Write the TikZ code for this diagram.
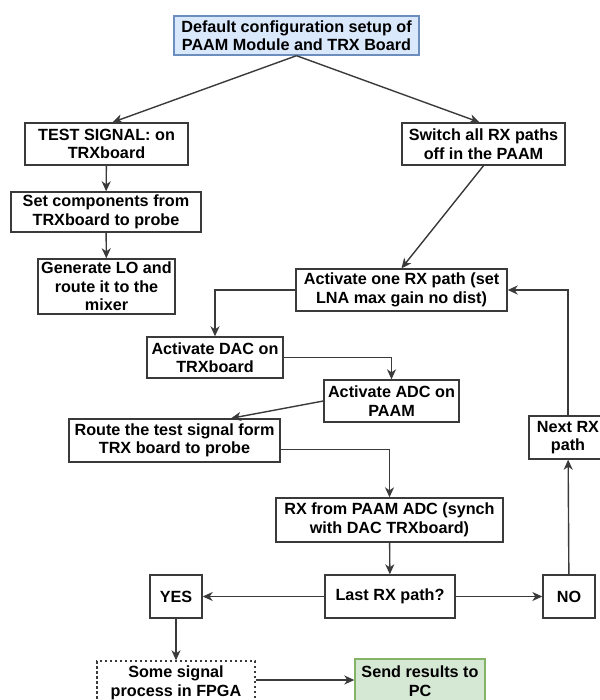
\documentclass[tikz,border=0pt]{standalone}
\usepackage{fontspec}
\setmainfont{Liberation Sans}
\usetikzlibrary{arrows.meta,calc}
\definecolor{ln}{HTML}{3A3A3A}
\definecolor{bluefill}{HTML}{DAE8FC}
\definecolor{bluedraw}{HTML}{6C8EBF}
\definecolor{greenfill}{HTML}{D5E8D4}
\definecolor{greendraw}{HTML}{82B366}
\begin{document}
\begin{tikzpicture}[x=1pt,y=-1pt,
  box/.style={draw=ln,line width=1.4pt,fill=white,rectangle,inner sep=0pt,align=center,
    font=\fontsize{16.2}{18.5}\selectfont\bfseries},
  arr/.style={draw=ln,line width=1.4pt,-{Stealth[length=10pt,width=9pt,inset=3pt]}}]
\useasboundingbox (0,0) rectangle (599,700);
\node[box,draw=bluedraw,fill=bluefill,minimum width=245pt,minimum height=39pt] (top) at (296.5,35.5) {Default configuration setup of\\PAAM Module and TRX Board};
\node[box,minimum width=163pt,minimum height=42pt] (test) at (106.5,144) {TEST SIGNAL: on\\TRXboard};
\node[box,minimum width=163pt,minimum height=42pt] (switch) at (483.5,144) {Switch all RX paths\\off in the PAAM};
\node[box,minimum width=190pt,minimum height=40pt] (set) at (106,212) {Set components from\\TRXboard to probe};
\node[box,minimum width=137pt,minimum height=55pt] (gen) at (106.5,286.5) {Generate LO and\\route it to the\\mixer};
\node[box,minimum width=211pt,minimum height=42pt] (act) at (401.5,290) {Activate one RX path (set\\LNA max gain no dist)};
\node[box,minimum width=136pt,minimum height=41pt] (dac) at (215,357.5) {Activate DAC on\\TRXboard};
\node[box,minimum width=135pt,minimum height=42pt] (adc) at (391.5,401) {Activate ADC on\\PAAM};
\node[box,minimum width=211pt,minimum height=43pt] (route) at (174.5,440.5) {Route the test signal form\\TRX board to probe};
\node[box,minimum width=78pt,minimum height=43pt] (next) at (568,437.5) {Next RX\\path};
\node[box,minimum width=227pt,minimum height=44pt] (rxp) at (389.5,520) {RX from PAAM ADC (synch\\with DAC TRXboard)};
\node[box,minimum width=52pt,minimum height=43pt] (yes) at (176,596.5) {YES};
\node[box,minimum width=130pt,minimum height=43pt] (last) at (390,596.5) {Last RX path?};
\node[box,minimum width=52pt,minimum height=43pt] (no) at (569,596.5) {NO};
\node[box,dash pattern=on 2.5pt off 2.5pt,minimum width=158pt,minimum height=44pt] (some) at (176,683) {Some signal\\process in FPGA};
\node[box,draw=greendraw,fill=greenfill,minimum width=130pt,minimum height=44pt] (send) at (420,681) {Send results to\\PC};
\draw[arr] (top.south) -- ($(test.north)+(6,0)$);
\draw[arr] (top.south) -- ($(switch.north)+(-4,0)$);
\draw[arr] (test) -- (set);
\draw[arr] (set) -- (gen);
\draw[arr] (switch.south) -- (act.north);
\draw[arr] (act.west) -| (dac.north);
\draw[arr] (dac.east) -| (adc.north);
\draw[arr] (adc.west) -- ($(route.north)+(56.5,0)$);
\draw[arr] ($(route.east)+(0,9)$) -| (rxp.north);
\draw[arr] (rxp) -- (last);
\draw[arr] (last) -- (yes);
\draw[arr] (last) -- (no);
\draw[arr] (no) -- (next);
\draw[arr] (next.north) |- (act.east);
\draw[arr] (yes) -- (some);
\draw[arr] ($(some.east)+(0,-3)$) -- ($(send.west)+(0,-1)$);
\end{tikzpicture}
\end{document}
